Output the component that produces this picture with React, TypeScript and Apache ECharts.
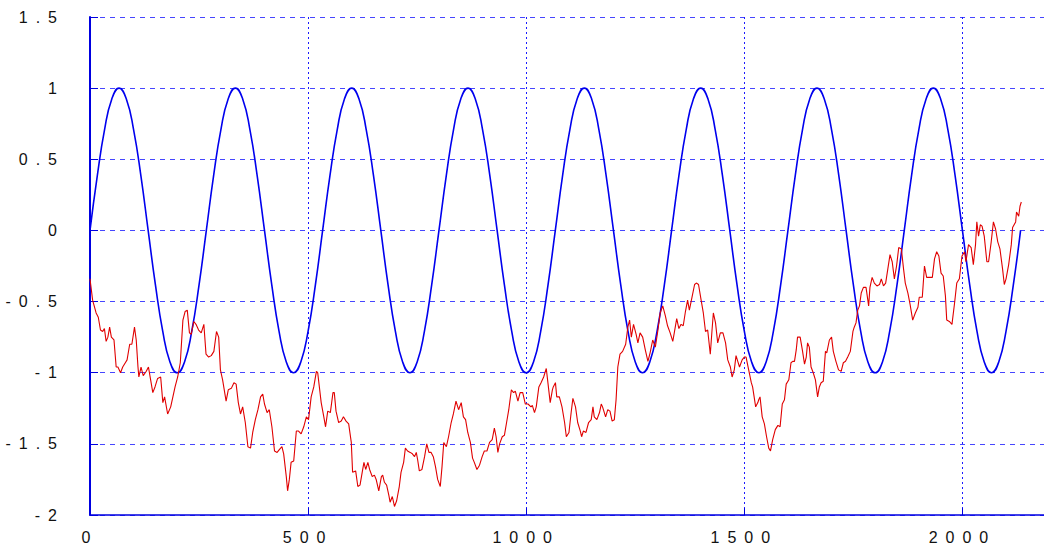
import React, { useEffect, useRef } from "react";
import * as echarts from "echarts";

// ---- data ----
const xTickValues = [0, 500, 1000, 1500, 2000];
const xTickLabels = ["0", "500", "1000", "1500", "2000"];
const yTickValues = [-2, -1.5, -1, -0.5, 0, 0.5, 1, 1.5];
const yTickLabels = ["-2", "-1.5", "-1", "-0.5", "0", "0.5", "1", "1.5"];

const sineX = [
  0, 16.7, 33.3, 50, 66.7, 83.3, 100, 116.7, 133.3, 150, 166.7, 183.3, 200, 216.7, 233.3, 250,
  266.7, 283.3, 300, 316.7, 333.3, 350, 366.7, 383.3, 400, 416.7, 433.3, 450, 466.7, 483.3, 500, 516.7,
  533.3, 550, 566.7, 583.3, 600, 616.7, 633.3, 650, 666.7, 683.3, 700, 716.7, 733.3, 750, 766.7, 783.3,
  800, 816.7, 833.3, 850, 866.7, 883.3, 900, 916.7, 933.3, 950, 966.7, 983.3, 1000, 1016.7, 1033.3, 1050,
  1066.7, 1083.3, 1100, 1116.7, 1133.3, 1150, 1166.7, 1183.3, 1200, 1216.7, 1233.3, 1250, 1266.7, 1283.3, 1300, 1316.7,
  1333.3, 1350, 1366.7, 1383.3, 1400, 1416.7, 1433.3, 1450, 1466.7, 1483.3, 1500, 1516.7, 1533.3, 1550, 1566.7, 1583.3,
  1600, 1616.7, 1633.3, 1650, 1666.7, 1683.3, 1700, 1716.7, 1733.3, 1750, 1766.7, 1783.3, 1800, 1816.7, 1833.3, 1850,
  1866.7, 1883.3, 1900, 1916.7, 1933.3, 1950, 1966.7, 1983.3, 2000, 2016.7, 2033.3, 2050, 2066.7, 2083.3, 2100, 2116.7,
  2133.3,
];
const sineY = [
  0, 0.383, 0.707, 0.924, 1, 0.924, 0.707, 0.383, 0, -0.383, -0.707, -0.924, -1, -0.924, -0.707, -0.383,
  0, 0.383, 0.707, 0.924, 1, 0.924, 0.707, 0.383, 0, -0.383, -0.707, -0.924, -1, -0.924, -0.707, -0.383,
  0, 0.383, 0.707, 0.924, 1, 0.924, 0.707, 0.383, 0, -0.383, -0.707, -0.924, -1, -0.924, -0.707, -0.383,
  0, 0.383, 0.707, 0.924, 1, 0.924, 0.707, 0.383, 0, -0.383, -0.707, -0.924, -1, -0.924, -0.707, -0.383,
  0, 0.383, 0.707, 0.924, 1, 0.924, 0.707, 0.383, 0, -0.383, -0.707, -0.924, -1, -0.924, -0.707, -0.383,
  0, 0.383, 0.707, 0.924, 1, 0.924, 0.707, 0.383, 0, -0.383, -0.707, -0.924, -1, -0.924, -0.707, -0.383,
  0, 0.383, 0.707, 0.924, 1, 0.924, 0.707, 0.383, 0, -0.383, -0.707, -0.924, -1, -0.924, -0.707, -0.383,
  0, 0.383, 0.707, 0.924, 1, 0.924, 0.707, 0.383, 0, -0.383, -0.707, -0.924, -1, -0.924, -0.707, -0.383,
  0,
];

const redWalk: [number, number][] = [
  [0,-0.34],[6,-0.49],[14,-0.58],[19,-0.61],[24,-0.70],[29,-0.71],[33,-0.69],[37,-0.78],[41,-0.75],[45,-0.68],
  [49,-0.75],[55,-0.77],[60,-0.96],[64,-0.96],[70,-1.00],[75,-0.96],[81,-0.93],[85,-0.91],[91,-0.80],[96,-0.80],
  [102,-0.68],[106,-0.77],[110,-0.96],[112,-1.03],[117,-0.96],[122,-1.02],[129,-0.99],[134,-0.96],[139,-1.05],[144,-1.14],
  [149,-1.10],[155,-1.04],[162,-1.03],[167,-1.21],[171,-1.17],[178,-1.29],[185,-1.24],[190,-1.17],[195,-1.10],[201,-1.03],
  [207,-0.93],[213,-0.63],[218,-0.57],[223,-0.56],[228,-0.72],[232,-0.73],[238,-0.64],[243,-0.66],[249,-0.70],[255,-0.72],
  [261,-0.66],[266,-0.87],[272,-0.89],[278,-0.88],[284,-0.85],[290,-0.71],[295,-0.75],[299,-0.98],[304,-1.05],[312,-1.20],
  [317,-1.12],[324,-1.11],[330,-1.07],[335,-1.08],[340,-1.21],[345,-1.29],[350,-1.24],[356,-1.35],[362,-1.52],[368,-1.53],
  [373,-1.42],[379,-1.33],[385,-1.26],[391,-1.17],[396,-1.15],[400,-1.22],[406,-1.28],[411,-1.26],[417,-1.38],[423,-1.55],
  [429,-1.56],[434,-1.54],[440,-1.52],[444,-1.57],[450,-1.73],[453,-1.83],[457,-1.75],[461,-1.63],[467,-1.62],[473,-1.41],
  [478,-1.41],[484,-1.43],[490,-1.38],[496,-1.31],[501,-1.33],[507,-1.17],[513,-1.10],[519,-0.99],[522,-1.00],[530,-1.21],
  [536,-1.31],[540,-1.38],[545,-1.27],[551,-1.28],[557,-1.14],[560,-1.14],[564,-1.27],[570,-1.35],[576,-1.34],[581,-1.31],
  [587,-1.34],[593,-1.36],[599,-1.49],[602,-1.70],[609,-1.69],[614,-1.80],[619,-1.79],[624,-1.70],[628,-1.63],[632,-1.68],
  [637,-1.63],[641,-1.68],[647,-1.73],[652,-1.72],[656,-1.75],[662,-1.83],[668,-1.73],[671,-1.72],[675,-1.77],[680,-1.79],
  [685,-1.86],[688,-1.91],[693,-1.87],[698,-1.94],[703,-1.90],[709,-1.80],[713,-1.70],[719,-1.63],[723,-1.53],[728,-1.55],
  [734,-1.56],[739,-1.57],[744,-1.59],[748,-1.56],[751,-1.61],[755,-1.69],[761,-1.68],[767,-1.59],[772,-1.50],[777,-1.56],
  [782,-1.56],[787,-1.59],[792,-1.66],[797,-1.75],[803,-1.80],[807,-1.66],[811,-1.49],[817,-1.52],[822,-1.45],[828,-1.35],
  [833,-1.29],[839,-1.20],[845,-1.26],[851,-1.21],[856,-1.31],[861,-1.33],[866,-1.42],[872,-1.49],[877,-1.60],[881,-1.63],
  [887,-1.68],[893,-1.65],[899,-1.59],[904,-1.55],[910,-1.55],[916,-1.49],[922,-1.47],[927,-1.39],[931,-1.45],[935,-1.56],
  [939,-1.50],[945,-1.45],[950,-1.44],[955,-1.35],[960,-1.26],[966,-1.12],[971,-1.14],[975,-1.13],[981,-1.20],[986,-1.14],
  [992,-1.14],[998,-1.22],[1004,-1.22],[1011,-1.24],[1014,-1.23],[1019,-1.28],[1023,-1.24],[1029,-1.10],[1034,-1.07],[1040,-1.03],
  [1046,-0.97],[1049,-1.05],[1055,-1.21],[1060,-1.12],[1062,-1.10],[1067,-1.07],[1070,-1.17],[1076,-1.17],[1082,-1.24],[1088,-1.35],
  [1092,-1.45],[1098,-1.42],[1103,-1.28],[1107,-1.18],[1113,-1.24],[1118,-1.35],[1124,-1.41],[1127,-1.45],[1131,-1.41],[1137,-1.42],
  [1143,-1.35],[1149,-1.33],[1153,-1.24],[1156,-1.31],[1162,-1.33],[1168,-1.28],[1172,-1.22],[1175,-1.24],[1182,-1.31],[1187,-1.26],
  [1192,-1.27],[1197,-1.34],[1202,-1.33],[1206,-1.19],[1210,-0.96],[1215,-0.87],[1221,-0.85],[1228,-0.80],[1233,-0.68],[1237,-0.63],
  [1241,-0.75],[1246,-0.66],[1252,-0.73],[1256,-0.79],[1261,-0.72],[1267,-0.75],[1273,-0.84],[1279,-0.92],[1284,-0.86],[1290,-0.77],
  [1296,-0.82],[1302,-0.70],[1307,-0.58],[1313,-0.53],[1319,-0.60],[1324,-0.67],[1330,-0.72],[1336,-0.78],[1340,-0.71],[1345,-0.62],
  [1350,-0.69],[1355,-0.66],[1360,-0.67],[1365,-0.57],[1370,-0.49],[1374,-0.56],[1380,-0.47],[1386,-0.38],[1390,-0.37],[1395,-0.38],
  [1401,-0.49],[1406,-0.58],[1411,-0.71],[1416,-0.70],[1422,-0.87],[1426,-0.70],[1429,-0.58],[1434,-0.65],[1439,-0.79],[1445,-0.72],
  [1451,-0.72],[1457,-0.79],[1462,-0.91],[1468,-0.96],[1472,-1.03],[1477,-0.98],[1481,-0.88],[1485,-0.92],[1489,-0.96],[1495,-0.91],
  [1500,-0.89],[1504,-0.89],[1510,-0.98],[1516,-1.07],[1519,-1.10],[1526,-1.24],[1531,-1.21],[1533,-1.19],[1536,-1.17],[1541,-1.31],
  [1546,-1.36],[1551,-1.45],[1556,-1.53],[1560,-1.55],[1565,-1.47],[1571,-1.40],[1577,-1.37],[1582,-1.38],[1587,-1.22],[1592,-1.19],
  [1596,-1.08],[1602,-1.05],[1607,-0.93],[1611,-0.92],[1615,-0.92],[1619,-0.84],[1622,-0.75],[1628,-0.75],[1633,-0.84],[1638,-0.94],
  [1642,-0.89],[1645,-0.79],[1649,-0.82],[1653,-0.96],[1658,-1.00],[1663,-1.05],[1668,-1.17],[1672,-1.10],[1676,-1.07],[1681,-1.06],
  [1686,-0.85],[1689,-0.86],[1695,-0.77],[1700,-0.75],[1704,-0.85],[1710,-0.92],[1716,-0.98],[1722,-0.99],[1727,-0.93],[1732,-0.92],
  [1737,-0.89],[1743,-0.85],[1749,-0.71],[1752,-0.68],[1756,-0.65],[1760,-0.56],[1764,-0.53],[1768,-0.44],[1773,-0.40],[1779,-0.40],
  [1785,-0.53],[1788,-0.40],[1793,-0.33],[1798,-0.37],[1804,-0.39],[1810,-0.38],[1814,-0.34],[1819,-0.39],[1824,-0.37],[1829,-0.27],
  [1834,-0.17],[1839,-0.22],[1844,-0.34],[1849,-0.25],[1854,-0.12],[1860,-0.13],[1865,-0.27],[1869,-0.37],[1875,-0.44],[1880,-0.52],
  [1886,-0.63],[1892,-0.58],[1898,-0.54],[1901,-0.47],[1908,-0.47],[1913,-0.25],[1918,-0.33],[1924,-0.33],[1931,-0.33],[1936,-0.20],
  [1941,-0.15],[1946,-0.18],[1951,-0.30],[1956,-0.32],[1961,-0.46],[1964,-0.63],[1970,-0.64],[1976,-0.66],[1982,-0.51],[1987,-0.37],
  [1993,-0.34],[1999,-0.18],[2005,-0.15],[2008,-0.22],[2014,-0.10],[2020,-0.12],[2025,-0.24],[2030,-0.10],[2033,0.06],[2037,-0.04],
  [2041,0.04],[2045,0.03],[2050,-0.04],[2056,-0.22],[2060,-0.22],[2066,-0.08],[2071,0.06],[2076,0.01],[2081,-0.08],[2086,-0.13],
  [2092,-0.27],[2096,-0.38],[2100,-0.34],[2106,-0.24],[2112,-0.10],[2115,0.02],[2122,0.06],[2124,0.13],[2129,0.10],[2132,0.17],
  [2135,0.20],
];

const SP = "\u2002";
const spaced = (s: string) => s.split("").join(SP);

export default function App() {
  const ref = useRef<HTMLDivElement>(null);

  useEffect(() => {
    if (!ref.current) return;
    const chart = echarts.init(ref.current, null, { renderer: "svg" });
    const sineData = sineX.map((x, i) => [x, sineY[i]]);
    chart.setOption({
      animation: false,
      backgroundColor: "#ffffff",
      grid: { left: 90, top: 17, width: 954, height: 498, containLabel: false },
      xAxis: {
        type: "value",
        min: 0,
        max: 2187,
        interval: 500,
        axisLine: { show: true, onZero: false, lineStyle: { color: "#0000e0", width: 1.5 } },
        axisTick: { show: true, inside: true, length: 7, lineStyle: { color: "#0000e0", width: 1 } },
        axisLabel: {
          margin: 14,
          color: "#111",
          fontFamily: "Liberation Sans, Arial, sans-serif",
          fontSize: 16,
          showMaxLabel: false,
          formatter: (v: number) => {
            const i = xTickValues.indexOf(v);
            return i >= 0 ? spaced(xTickLabels[i]) + SP : "";
          },
        },
        splitLine: {
          show: true,
          lineStyle: { color: "#1a1aff", width: 1, type: [2, 3] },
        },
      },
      yAxis: {
        type: "value",
        min: -2,
        max: 1.5,
        interval: 0.5,
        axisLine: { show: true, onZero: false, lineStyle: { color: "#0000e0", width: 2 } },
        axisTick: { show: true, inside: true, length: 8, lineStyle: { color: "#0000e0", width: 1 } },
        axisLabel: {
          margin: 33,
          color: "#111",
          fontFamily: "Liberation Sans, Arial, sans-serif",
          fontSize: 16,
          formatter: (v: number) => {
            const i = yTickValues.findIndex((t) => Math.abs(t - v) < 1e-9);
            return i >= 0 ? spaced(yTickLabels[i]) : "";
          },
        },
        splitLine: {
          show: true,
          lineStyle: { color: "#4646ff", width: 1, type: [5, 5] },
        },
      },
      series: [
        {
          type: "line",
          data: sineData,
          smooth: 0.5,
          showSymbol: false,
          symbol: "none",
          lineStyle: { color: "#0000ee", width: 1.6 },
          z: 2,
        },
        {
          type: "line",
          data: redWalk,
          showSymbol: false,
          symbol: "none",
          lineStyle: { color: "#e00000", width: 1.1 },
          z: 3,
        },
      ],
    });
    return () => chart.dispose();
  }, []);

  return (
    <div
      ref={ref}
      style={{ position: "fixed", left: 0, top: 0, width: 1044, height: 552, background: "#fff" }}
    />
  );
}
